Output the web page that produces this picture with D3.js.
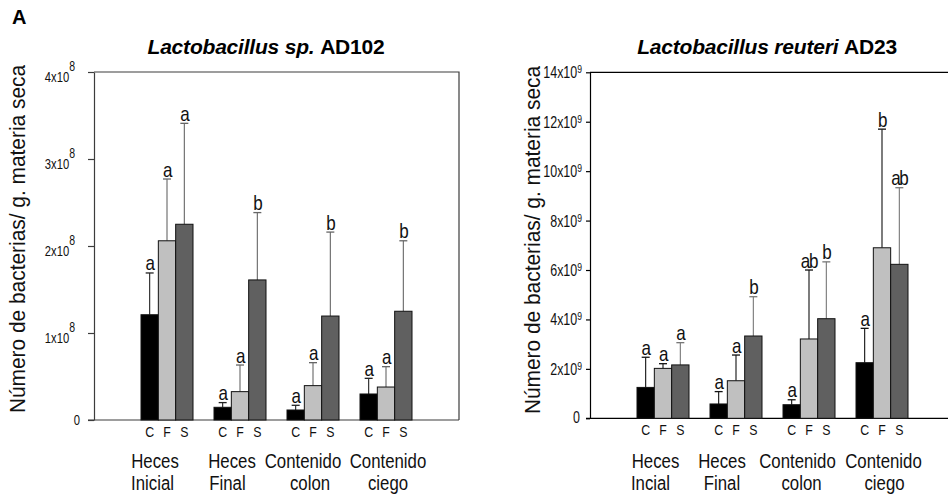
<!DOCTYPE html>
<html>
<head>
<meta charset="utf-8">
<script src="https://cdn.jsdelivr.net/npm/d3@7"></script>
<style>
  body { margin: 0; background: #fff; }
  svg { display: block; font-family: "Liberation Sans", Arial, sans-serif; }
</style>
</head>
<body>
<svg id="chart" width="948" height="497"></svg>
<script>
// Sampling sites and treatments (C = control, F, S)
const groupKeys = ["g1", "g2", "g3", "g4"];
const treatments = ["C", "F", "S"];

// Lactobacillus sp. AD102 — bacteria per g dry matter (mean and SD per site × treatment)
const sp102Means = [
  [1.21e8, 2.06e8, 2.25e8],
  [0.146e8, 0.326e8, 1.61e8],
  [0.115e8, 0.395e8, 1.195e8],
  [0.299e8, 0.379e8, 1.25e8]
];
const sp102Errors = [
  [0.48e8, 0.71e8, 1.16e8],
  [0.054e8, 0.306e8, 0.774e8],
  [0.054e8, 0.264e8, 0.965e8],
  [0.18e8, 0.234e8, 0.81e8]
];
const sp102Letters = [["a", "a", "a"], ["a", "a", "b"], ["a", "a", "b"], ["a", "a", "b"]];
const sp102Sites = [["Heces", "Inicial"], ["Heces", "Final"], ["Contenido", "colon"], ["Contenido", "ciego"]];
const sp102Ticks = [0, 1e8, 2e8, 3e8, 4e8];

// Lactobacillus reuteri AD23
const reuteriMeans = [
  [1.25e9, 2.02e9, 2.16e9],
  [0.58e9, 1.52e9, 3.33e9],
  [0.55e9, 3.21e9, 4.03e9],
  [2.25e9, 6.9e9, 6.23e9]
];
const reuteriErrors = [
  [1.22e9, 0.19e9, 0.90e9],
  [0.50e9, 1.04e9, 1.59e9],
  [0.20e9, 2.79e9, 2.30e9],
  [1.39e9, 4.8e9, 3.10e9]
];
const reuteriLetters = [["a", "a", "a"], ["a", "a", "b"], ["a", "ab", "b"], ["a", "b", "ab"]];
const reuteriSites = [["Heces", "Incial"], ["Heces", "Final"], ["Contenido", "colon"], ["Contenido", "ciego"]];
const reuteriTicks = [0, 2e9, 4e9, 6e9, 8e9, 10e9, 12e9, 14e9];

const barFills = ["#000000", "#c0c0c0", "#606060"];
const yTitle = "Número de bacterias/ g. materia seca";

const svg = d3.select("#chart");

// text narrowed horizontally (condensed look)
function narrowText(parent, x, y, sx, size) {
  return parent.append("text")
    .attr("transform", `translate(${x},${y}) scale(${sx},1)`)
    .attr("font-size", size)
    .attr("fill", "#111");
}

svg.append("text")
  .attr("x", 12).attr("y", 24)
  .attr("font-size", 20).attr("font-weight", "bold")
  .text("A");

function drawPanel(p) {
  const g = svg.append("g");
  const plotW = 365;
  const x = d3.scalePoint().domain(groupKeys).range([p.left, p.left + plotW]).padding(1);
  const x1 = d3.scaleBand().domain(treatments).range([-26, 26]);
  const y = d3.scaleLinear().domain([0, p.yMax]).range([p.bottom, p.top]);

  // frame
  g.append("path")
    .attr("d", `M${p.left},${p.top}H${p.left + plotW}V${p.bottom}`)
    .attr("fill", "none").attr("stroke", p.axisColor).attr("stroke-width", 1.2);

  // y axis
  const ax = g.append("g")
    .attr("transform", `translate(${p.left},0)`)
    .call(d3.axisLeft(y).tickValues(p.ticks).tickSize(p.tickLen).tickSizeOuter(0).tickFormat(""));
  ax.selectAll("path, line").attr("stroke", p.axisColor).attr("stroke-width", 1.2);

  // bottom axis line
  g.append("line")
    .attr("x1", p.left - p.tickLen).attr("x2", p.left + plotW)
    .attr("y1", y(0)).attr("y2", y(0))
    .attr("stroke", p.axisColor).attr("stroke-width", 1.2);

  // tick labels with exponent superscript
  p.ticks.forEach(v => {
    if (v === 0) {
      narrowText(g, p.left - p.zeroGap, y(v) + 5, p.tickScale, p.tickFont)
        .attr("text-anchor", "end").text("0");
    } else {
      const mant = Math.round(v / Math.pow(10, p.exponent));
      const t = narrowText(g, p.left - p.labelGap, y(v) + p.mainDy, p.tickScale, p.tickFont)
        .attr("text-anchor", "end");
      t.append("tspan").text(mant + "x10");
      t.append("tspan").attr("dy", -p.supRaise).attr("font-size", p.supFont).text(p.exponent);
    }
  });

  // y axis title
  g.append("text")
    .attr("transform", `translate(${p.titleYX},${p.titleYY}) rotate(-90) scale(0.95,1)`)
    .attr("text-anchor", "middle")
    .attr("font-size", 22)
    .attr("fill", "#111")
    .text(yTitle);

  // chart title
  const tt = g.append("text")
    .attr("x", p.titleX).attr("y", 54)
    .attr("text-anchor", "middle")
    .attr("font-size", 21).attr("font-weight", "bold")
    .attr("letter-spacing", -0.2);
  tt.append("tspan").attr("font-style", "italic").text(p.titleItalic + " ");
  tt.append("tspan").text(p.titleStrain);

  // bars, error whiskers, significance letters
  groupKeys.forEach((key, gi) => {
    treatments.forEach((tr, ti) => {
      const m = p.means[gi][ti];
      const e = p.errors[gi][ti];
      const bx = x(key) + x1(tr);
      const cx = bx + x1.bandwidth() / 2;
      g.append("line")
        .attr("x1", cx).attr("x2", cx)
        .attr("y1", y(m)).attr("y2", y(m + e))
        .attr("stroke", p.errColors[ti]).attr("stroke-width", 1.1);
      g.append("line")
        .attr("x1", cx - 4).attr("x2", cx + 4)
        .attr("y1", y(m + e)).attr("y2", y(m + e))
        .attr("stroke", p.errColors[ti]).attr("stroke-width", 1.3);
      g.append("rect")
        .attr("x", bx).attr("width", x1.bandwidth())
        .attr("y", y(m)).attr("height", y(0) - y(m))
        .attr("fill", barFills[ti])
        .attr("stroke", "#111").attr("stroke-width", 1);
      narrowText(g, cx, y(m + e) - 2.5, 0.85, 20)
        .attr("text-anchor", "middle")
        .attr("letter-spacing", -1.5)
        .text(p.letters[gi][ti]);
      narrowText(g, cx, y(0) + 17, 0.85, 14.5)
        .attr("text-anchor", "middle")
        .text(tr);
    });
    p.sites[gi].forEach((line, li) => {
      narrowText(g, x(key) + p.siteDx[gi][li], 468 + li * 22, 0.8, 21)
        .attr("text-anchor", "middle")
        .text(line);
    });
  });
}

drawPanel({
  left: 94, top: 72, bottom: 420, yMax: 4e8,
  ticks: sp102Ticks, exponent: 8,
  means: sp102Means, errors: sp102Errors, letters: sp102Letters, sites: sp102Sites,
  axisColor: "#3c3c3c", tickLen: 6, labelGap: 19, zeroGap: 14,
  tickFont: 15, tickScale: 0.75, supFont: 14, supRaise: 11, mainDy: 10,
  titleYX: 25, titleYY: 239,
  titleX: 266, titleItalic: "Lactobacillus sp.", titleStrain: "AD102",
  errColors: ["#222", "#666", "#666"],
  siteDx: [[-12, -14.5], [-8, -12.5], [-10, -3], [2, 2]]
});

drawPanel({
  left: 590, top: 72.3, bottom: 418.3, yMax: 14e9,
  ticks: reuteriTicks, exponent: 9,
  means: reuteriMeans, errors: reuteriErrors, letters: reuteriLetters, sites: reuteriSites,
  axisColor: "#000", tickLen: 4, labelGap: 8, zeroGap: 10,
  tickFont: 16, tickScale: 0.78, supFont: 11, supRaise: 5, mainDy: 6,
  titleYX: 540, titleYY: 240,
  titleX: 767, titleItalic: "Lactobacillus reuteri", titleStrain: "AD23",
  errColors: ["#111", "#111", "#777"],
  siteDx: [[-7.5, -12.5], [-14, -14], [-11.5, -7.5], [1.5, 2.5]]
});
</script>
</body>
</html>
